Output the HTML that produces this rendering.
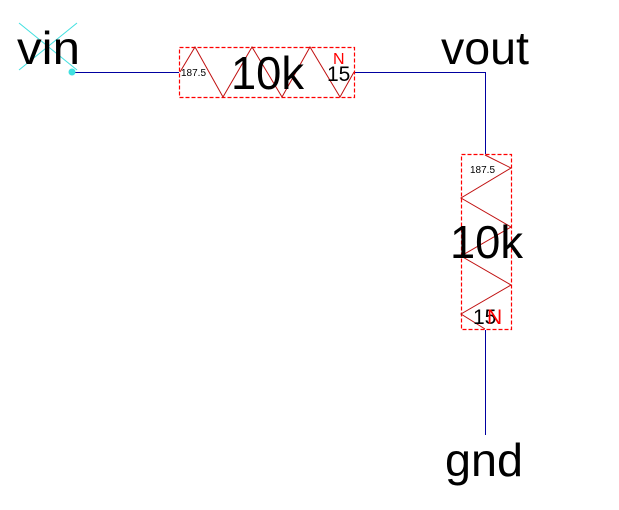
<!DOCTYPE html>
<html><head><style>body{margin:0;background:#fff}svg{display:block}</style></head><body>
<svg width="619" height="510" xmlns="http://www.w3.org/2000/svg" font-family="Liberation Sans, sans-serif">
<line x1="72" y1="72.5" x2="179" y2="72.5" stroke="#0000a0" stroke-width="1"/>
<line x1="355" y1="72.5" x2="485" y2="72.5" stroke="#0000a0"/>
<line x1="485.5" y1="72" x2="485.5" y2="154" stroke="#0000a0"/>
<line x1="485.5" y1="330" x2="485.5" y2="435" stroke="#0000a0"/>
<line x1="19" y1="23" x2="77" y2="70" stroke="#40e0e0"/>
<line x1="19" y1="70" x2="77" y2="23" stroke="#40e0e0"/>
<circle cx="72" cy="72" r="3.5" fill="#40e0e0"/>
<text x="17" y="64" font-size="46" textLength="63" lengthAdjust="spacingAndGlyphs">vin</text>
<text x="441" y="64" font-size="46" textLength="88" lengthAdjust="spacingAndGlyphs">vout</text>
<text x="445" y="476" font-size="46" textLength="78" lengthAdjust="spacingAndGlyphs">gnd</text>
<rect x="179.5" y="47.5" width="175" height="50" fill="none" stroke="#ff0000" stroke-width="1.2" stroke-dasharray="4,2"/>
<polyline points="180,72 195,47 223,97 252,47 282,97 310,47 340,97 354,72" fill="none" stroke="#c01010"/>
<text x="231" y="89" font-size="46" textLength="73" lengthAdjust="spacingAndGlyphs">10k</text>
<text x="181" y="76" font-size="10">187.5</text>
<text x="327" y="81" font-size="21">15</text>
<text x="333" y="64" font-size="16" fill="red">N</text>
<rect x="461.5" y="154.5" width="50" height="175" fill="none" stroke="#ff0000" stroke-width="1.2" stroke-dasharray="4,2"/>
<polyline points="485,155 511,168 461,198 511,227 461,256 511,285 461,314 485,329" fill="none" stroke="#c01010"/>
<text x="450" y="258" font-size="46" textLength="73" lengthAdjust="spacingAndGlyphs">10k</text>
<text x="470" y="173" font-size="10">187.5</text>
<text x="473" y="324" font-size="21">15</text>
<text x="487" y="324" font-size="21" fill="red">N</text>
</svg>
</body></html>
